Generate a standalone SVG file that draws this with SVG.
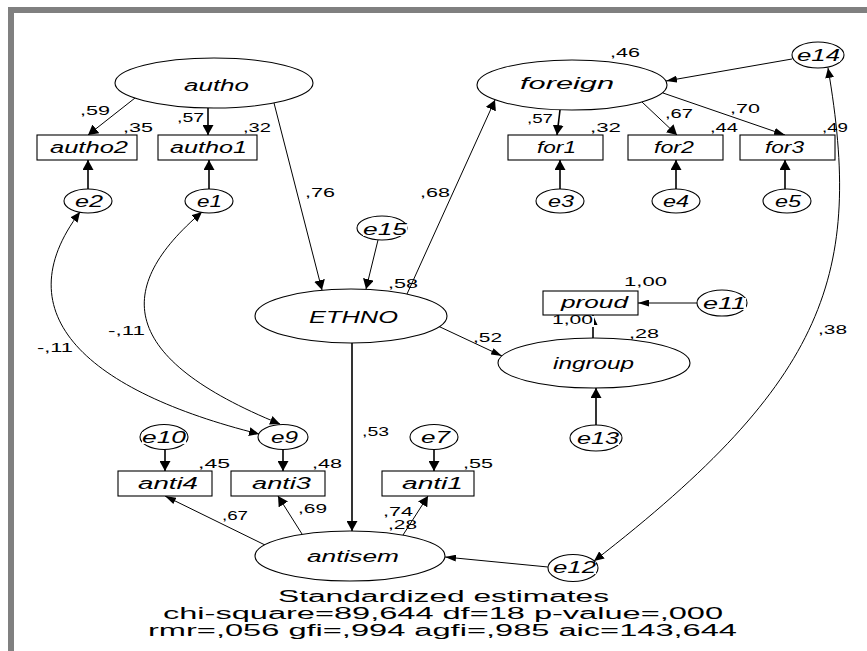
<svg xmlns="http://www.w3.org/2000/svg" width="867" height="651" viewBox="0 0 867 651">
<style>
.shape{fill:#fff;stroke:#000;stroke-width:1.1}
.lab{font-family:"Liberation Sans",Arial,sans-serif;font-style:italic;font-size:16px;fill:#000}
.num{font-family:"Liberation Sans",Arial,sans-serif;font-size:13px;fill:#000}
.foot{font-family:"Liberation Sans",Arial,sans-serif;font-size:16px;fill:#000}
.bg{fill:#fff}
.c{fill:none;stroke:#000;stroke-width:1}
.v{stroke-width:1.6}
.frame{fill:#808080}
</style>
<defs>
<marker id="aV" markerUnits="userSpaceOnUse" markerWidth="10" markerHeight="11" refX="10" refY="5.5" orient="auto-start-reverse" viewBox="0 0 10 11"><path d="M0,0 L10,5.5 L0,11 z" fill="#000"/></marker>
<marker id="aH" markerUnits="userSpaceOnUse" markerWidth="11" markerHeight="7" refX="11" refY="3.5" orient="auto-start-reverse" viewBox="0 0 11 7"><path d="M0,0 L11,3.5 L0,7 z" fill="#000"/></marker>
<marker id="aM" markerUnits="userSpaceOnUse" markerWidth="10" markerHeight="9" refX="10" refY="4.5" orient="auto-start-reverse" viewBox="0 0 10 9"><path d="M0,0 L10,4.5 L0,9 z" fill="#000"/></marker>
</defs>
<rect width="867" height="651" fill="#fff"/>
<g id="frame">
<rect class="frame" x="8" y="7" width="859" height="6"/>
<rect class="frame" x="8" y="7" width="6" height="644"/>
</g>
<g id="connectors">
<path class="c" d="M135,98 L88,135" marker-end="url(#aV)"/>
<path class="c v" d="M208,108 L208,135" marker-end="url(#aV)"/>
<path class="c v" d="M88,189 L88,160" marker-end="url(#aV)"/>
<path class="c v" d="M209,189 L209,160" marker-end="url(#aV)"/>
<path class="c" d="M274,103 L322,290" marker-end="url(#aV)"/>
<path class="c" d="M378,240 L366,289" marker-end="url(#aV)"/>
<path class="c" d="M407,294 L495,100" marker-end="url(#aV)"/>
<path class="c" d="M792,59 L666,81" marker-end="url(#aH)"/>
<path class="c v" d="M560,110 L557,135" marker-end="url(#aV)"/>
<path class="c" d="M642,102 L677,135" marker-end="url(#aV)"/>
<path class="c" d="M663,93 L785,135" marker-end="url(#aH)"/>
<path class="c v" d="M560,189 L560,160" marker-end="url(#aV)"/>
<path class="c v" d="M676,189 L676,160" marker-end="url(#aV)"/>
<path class="c v" d="M785,189 L785,160" marker-end="url(#aV)"/>
<path class="c" d="M697,303 L638,303" marker-end="url(#aH)"/>
<path class="c v" d="M593,338 L593,315" marker-end="url(#aM)"/>
<path class="c" d="M438,326 L502,356" marker-end="url(#aH)"/>
<path class="c v" d="M596,425 L596,388" marker-end="url(#aV)"/>
<path class="c v" d="M352,343 L352,531" marker-end="url(#aV)"/>
<path class="c" d="M265,545 L165,496" marker-end="url(#aH)"/>
<path class="c" d="M302,534 L278,496" marker-end="url(#aV)"/>
<path class="c" d="M403,535 L428,496" marker-end="url(#aV)"/>
<path class="c v" d="M165,449.5 L165,471" marker-end="url(#aV)"/>
<path class="c v" d="M283,449.5 L283,471" marker-end="url(#aV)"/>
<path class="c v" d="M434,449.5 L434,471" marker-end="url(#aV)"/>
<path class="c" d="M548,567 L445,557" marker-end="url(#aH)"/>
<path class="c" d="M80,212 C2,315 89,391.5 259,434" marker-start="url(#aM)" marker-end="url(#aM)"/>
<path class="c" d="M202,212 C113,288 118,358 280,424" marker-start="url(#aM)" marker-end="url(#aM)"/>
<path class="c" d="M828,68 C863,273 828,380 594,561" marker-start="url(#aM)" marker-end="url(#aM)"/>
</g>
<g id="autho"><ellipse class="shape" cx="214" cy="83" rx="99" ry="25"/><text class="lab" x="184" y="91" textLength="65" lengthAdjust="spacingAndGlyphs">autho</text></g>
<g id="autho2"><rect class="shape" x="37" y="135" width="100" height="25"/><text class="lab" x="50" y="153" textLength="78" lengthAdjust="spacingAndGlyphs">autho2</text></g>
<g id="autho1"><rect class="shape" x="158" y="135" width="99" height="25"/><text class="lab" x="170" y="153" textLength="77" lengthAdjust="spacingAndGlyphs">autho1</text></g>
<g id="e2"><ellipse class="shape" cx="88" cy="201" rx="24" ry="12"/><text class="lab" x="75" y="206.5" textLength="28" lengthAdjust="spacingAndGlyphs">e2</text></g>
<g id="e1"><ellipse class="shape" cx="209" cy="201" rx="24" ry="12"/><text class="lab" x="197" y="206.5" textLength="25" lengthAdjust="spacingAndGlyphs">e1</text></g>
<g id="foreign"><ellipse class="shape" cx="572" cy="85" rx="95" ry="25"/><text class="lab" x="520" y="89" textLength="94" lengthAdjust="spacingAndGlyphs">foreign</text></g>
<g id="for1"><rect class="shape" x="508" y="135" width="95" height="25"/><text class="lab" x="537" y="153" textLength="39" lengthAdjust="spacingAndGlyphs">for1</text></g>
<g id="for2"><rect class="shape" x="628" y="135" width="95" height="25"/><text class="lab" x="654" y="153" textLength="40" lengthAdjust="spacingAndGlyphs">for2</text></g>
<g id="for3"><rect class="shape" x="740" y="135" width="95" height="25"/><text class="lab" x="765" y="153" textLength="39" lengthAdjust="spacingAndGlyphs">for3</text></g>
<g id="e3"><ellipse class="shape" cx="560" cy="201" rx="24" ry="12"/><text class="lab" x="548" y="206.5" textLength="26" lengthAdjust="spacingAndGlyphs">e3</text></g>
<g id="e4"><ellipse class="shape" cx="676" cy="201" rx="24" ry="12"/><text class="lab" x="663" y="206.5" textLength="26" lengthAdjust="spacingAndGlyphs">e4</text></g>
<g id="e5"><ellipse class="shape" cx="787" cy="201" rx="24" ry="12"/><text class="lab" x="775" y="206.5" textLength="26" lengthAdjust="spacingAndGlyphs">e5</text></g>
<g id="e14"><ellipse class="shape" cx="818" cy="55" rx="26" ry="13"/><rect class="bg" x="797" y="50" width="43" height="12"/><text class="lab" x="797" y="61" textLength="43" lengthAdjust="spacingAndGlyphs">e14</text></g>
<g id="ETHNO"><ellipse class="shape" cx="351" cy="316" rx="96" ry="27"/><text class="lab" x="309" y="323" textLength="89" lengthAdjust="spacingAndGlyphs">ETHNO</text></g>
<g id="e15"><ellipse class="shape" cx="382" cy="228" rx="25" ry="12"/><rect class="bg" x="363" y="224" width="44" height="12"/><text class="lab" x="363" y="235" textLength="44" lengthAdjust="spacingAndGlyphs">e15</text></g>
<g id="proud"><rect class="shape" x="543" y="291" width="95" height="24"/><text class="lab" x="561" y="308" textLength="67" lengthAdjust="spacingAndGlyphs">proud</text></g>
<g id="e11"><ellipse class="shape" cx="722" cy="303" rx="25" ry="13"/><rect class="bg" x="703" y="298" width="43" height="12"/><text class="lab" x="703" y="309" textLength="43" lengthAdjust="spacingAndGlyphs">e11</text></g>
<g id="ingroup"><ellipse class="shape" cx="594" cy="363" rx="96" ry="25"/><text class="lab" x="553" y="369" textLength="81" lengthAdjust="spacingAndGlyphs">ingroup</text></g>
<g id="e13"><ellipse class="shape" cx="596" cy="438" rx="26" ry="13"/><rect class="bg" x="577" y="433" width="42" height="12"/><text class="lab" x="577" y="444" textLength="42" lengthAdjust="spacingAndGlyphs">e13</text></g>
<g id="e10"><ellipse class="shape" cx="164" cy="437" rx="24" ry="12.5"/><rect class="bg" x="142" y="432" width="44" height="12"/><text class="lab" x="142" y="443" textLength="44" lengthAdjust="spacingAndGlyphs">e10</text></g>
<g id="e9"><ellipse class="shape" cx="283" cy="437" rx="25" ry="12.5"/><text class="lab" x="271" y="443" textLength="27" lengthAdjust="spacingAndGlyphs">e9</text></g>
<g id="e7"><ellipse class="shape" cx="434" cy="437" rx="24" ry="12.5"/><text class="lab" x="421" y="443" textLength="29" lengthAdjust="spacingAndGlyphs">e7</text></g>
<g id="anti4"><rect class="shape" x="118" y="471" width="94" height="25"/><text class="lab" x="138" y="489" textLength="60" lengthAdjust="spacingAndGlyphs">anti4</text></g>
<g id="anti3"><rect class="shape" x="231" y="471" width="94" height="25"/><text class="lab" x="252" y="489" textLength="59" lengthAdjust="spacingAndGlyphs">anti3</text></g>
<g id="anti1"><rect class="shape" x="382" y="471" width="92" height="25"/><text class="lab" x="402" y="489" textLength="61" lengthAdjust="spacingAndGlyphs">anti1</text></g>
<g id="antisem"><ellipse class="shape" cx="350" cy="556" rx="95" ry="25"/><text class="lab" x="307" y="562" textLength="92" lengthAdjust="spacingAndGlyphs">antisem</text></g>
<g id="e12"><ellipse class="shape" cx="573" cy="568" rx="25" ry="13.5"/><rect class="bg" x="553" y="562" width="43" height="12"/><text class="lab" x="553" y="573" textLength="43" lengthAdjust="spacingAndGlyphs">e12</text></g>
<g id="labels">
<text class="num" x="80" y="115" textLength="30" lengthAdjust="spacingAndGlyphs">,59</text>
<text class="num" x="123" y="132" textLength="30" lengthAdjust="spacingAndGlyphs">,35</text>
<text class="num" x="177" y="122" textLength="27" lengthAdjust="spacingAndGlyphs">,57</text>
<text class="num" x="243" y="132" textLength="28" lengthAdjust="spacingAndGlyphs">,32</text>
<text class="num" x="305" y="197" textLength="30" lengthAdjust="spacingAndGlyphs">,76</text>
<text class="num" x="420" y="197" textLength="30" lengthAdjust="spacingAndGlyphs">,68</text>
<text class="num" x="388" y="288" textLength="30" lengthAdjust="spacingAndGlyphs">,58</text>
<text class="num" x="610" y="57" textLength="30" lengthAdjust="spacingAndGlyphs">,46</text>
<text class="num" x="527" y="123" textLength="26" lengthAdjust="spacingAndGlyphs">,57</text>
<text class="num" x="590" y="132" textLength="31" lengthAdjust="spacingAndGlyphs">,32</text>
<text class="num" x="665" y="118" textLength="28" lengthAdjust="spacingAndGlyphs">,67</text>
<text class="num" x="710" y="132" textLength="28" lengthAdjust="spacingAndGlyphs">,44</text>
<text class="num" x="730" y="113" textLength="30" lengthAdjust="spacingAndGlyphs">,70</text>
<text class="num" x="822" y="132" textLength="26" lengthAdjust="spacingAndGlyphs">,49</text>
<text class="num" x="818" y="334" textLength="29" lengthAdjust="spacingAndGlyphs">,38</text>
<text class="num" x="624" y="286" textLength="43" lengthAdjust="spacingAndGlyphs">1,00</text>
<rect class="bg" x="551" y="316" width="43" height="11"/>
<text class="num" x="552" y="324" textLength="41" lengthAdjust="spacingAndGlyphs">1,00</text>
<text class="num" x="629" y="338" textLength="30" lengthAdjust="spacingAndGlyphs">,28</text>
<text class="num" x="473" y="342" textLength="29" lengthAdjust="spacingAndGlyphs">,52</text>
<text class="num" x="37" y="352" textLength="36" lengthAdjust="spacingAndGlyphs">-,11</text>
<text class="num" x="108" y="335" textLength="37" lengthAdjust="spacingAndGlyphs">-,11</text>
<text class="num" x="362" y="436" textLength="27" lengthAdjust="spacingAndGlyphs">,53</text>
<text class="num" x="198" y="468" textLength="32" lengthAdjust="spacingAndGlyphs">,45</text>
<text class="num" x="312" y="468" textLength="30" lengthAdjust="spacingAndGlyphs">,48</text>
<text class="num" x="463" y="468" textLength="30" lengthAdjust="spacingAndGlyphs">,55</text>
<text class="num" x="222" y="520" textLength="26" lengthAdjust="spacingAndGlyphs">,67</text>
<text class="num" x="298" y="513" textLength="29" lengthAdjust="spacingAndGlyphs">,69</text>
<text class="num" x="383" y="516" textLength="30" lengthAdjust="spacingAndGlyphs">,74</text>
<text class="num" x="388" y="529" textLength="29" lengthAdjust="spacingAndGlyphs">,28</text>
</g>
<g id="footer">
<text class="foot" x="278" y="602" textLength="331" lengthAdjust="spacingAndGlyphs">Standardized estimates</text>
<text class="foot" x="163" y="619" textLength="560" lengthAdjust="spacingAndGlyphs">chi-square=89,644 df=18 p-value=,000</text>
<text class="foot" x="148" y="636" textLength="589" lengthAdjust="spacingAndGlyphs">rmr=,056 gfi=,994 agfi=,985 aic=143,644</text>
</g>
</svg>
